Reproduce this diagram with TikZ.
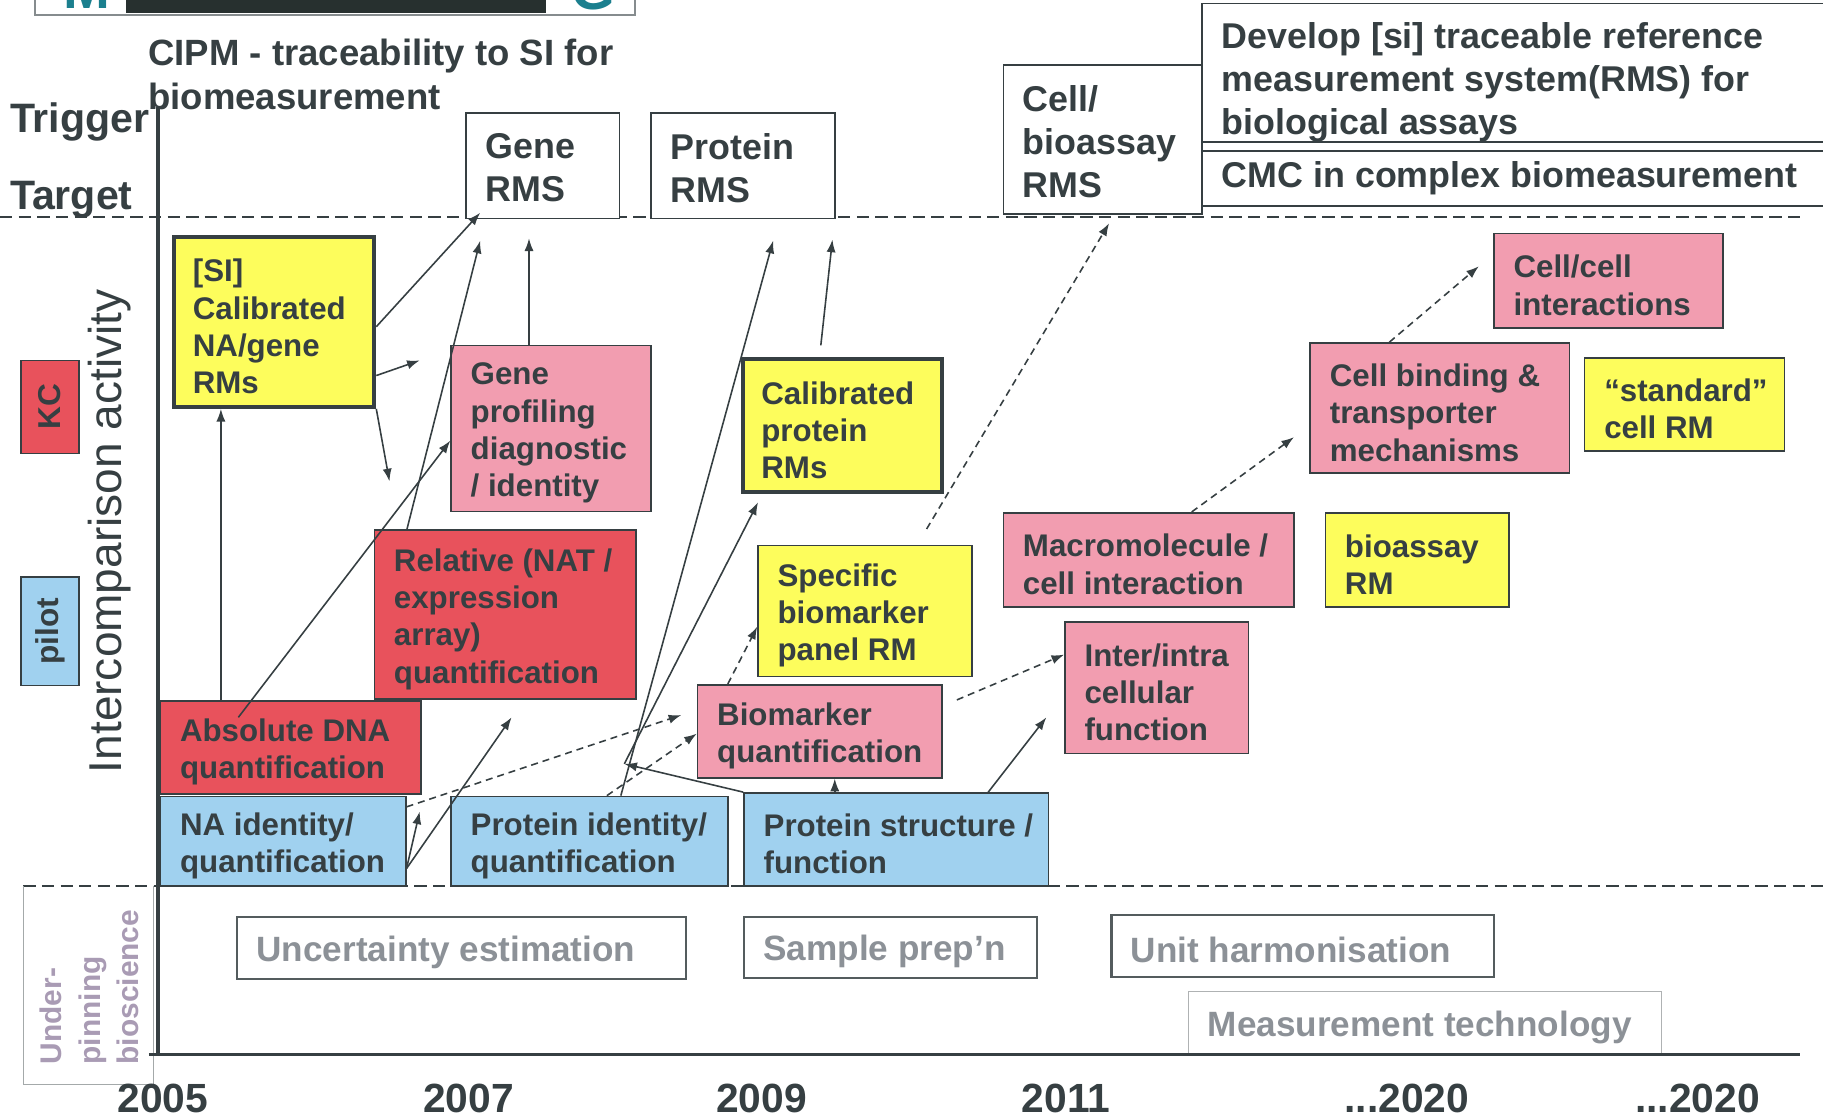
\documentclass[tikz,border=0pt]{standalone}
\usepackage{fontspec}
\setmainfont{Liberation Sans}
\usetikzlibrary{arrows.meta,fit}

\definecolor{ink}{HTML}{363F42}
\definecolor{rmyellow}{HTML}{FDFD5C}
\definecolor{rmpink}{HTML}{F29DB0}
\definecolor{rmred}{HTML}{E8525C}
\definecolor{rmblue}{HTML}{A0D1EF}
\definecolor{lilac}{HTML}{A99BB4}
\definecolor{greytext}{HTML}{8C9197}
\definecolor{logoteal}{HTML}{1B7F8E}
\definecolor{logodark}{HTML}{27302F}

\tikzset{
  rmbox/.style={draw=ink, line width=0.45pt, inner sep=0pt},
  yellowbox/.style={rmbox, fill=rmyellow},
  calbox/.style={yellowbox, line width=1.1pt},
  pinkbox/.style={rmbox, fill=rmpink},
  redbox/.style={rmbox, fill=rmred},
  bluebox/.style={rmbox, fill=rmblue},
  rmsbox/.style={rmbox, fill=white},
  basebox/.style={draw=ink!85, line width=0.6pt, inner sep=0pt},
  textbase/.style={right, inner sep=5.6pt, align=left, text=ink},
  boxtext/.style={textbase, yshift=-1.3pt, font=\bfseries\fontsize{8.9}{10.6}\selectfont},
  rmstext/.style={textbase, yshift=-0.6pt, font=\bfseries\fontsize{10.2}{12.2}\selectfont},
  basetext/.style={textbase, yshift=-1.2pt, text=greytext, font=\bfseries\fontsize{10}{12}\selectfont},
  link/.style={draw=ink, line width=0.45pt, -{Latex[length=3.6pt, width=2.6pt]}},
  dashlink/.style={link, dash pattern=on 2pt off 1.4pt},
  sepline/.style={draw=ink, line width=0.6pt, dash pattern=on 3.5pt off 1.8pt},
  year/.style={text=ink, font=\bfseries\fontsize{11.6}{12}\selectfont}
}

\begin{document}
\begin{tikzpicture}[x=0.011626cm, y=-0.011626cm]
    \useasboundingbox ( 0, 0 ) rectangle ( 1568, 962 );

    % logo strip
    \draw[ink!60, line width=0.5pt, fill=white] ( 30, -6 ) rectangle ( 546, 13 );
    \fill[logodark] ( 108, -6 ) rectangle ( 470, 11 );
    \node[anchor=base, text=logoteal, font=\bfseries\fontsize{16}{16}\selectfont] (logom) at ( 75, 7 ) {M};
    \node[anchor=base, text=logoteal, font=\bfseries\fontsize{16}{16}\selectfont] (logog) at ( 510, 8 ) {G};

    % title and rows
    \node[right, inner sep=0pt, align=left, text=ink, font=\bfseries\fontsize{10.4}{12.3}\selectfont] (title) at ( 127, 64 ) {CIPM - traceability to SI for\\biomeasurement};
    \node[right, inner sep=0pt, text=ink, font=\bfseries\fontsize{11.7}{13}\selectfont] (trigger) at ( 8, 105 ) {Trigger};
    \node[right, inner sep=0pt, text=ink, font=\bfseries\fontsize{11.7}{13}\selectfont] (target) at ( 8, 172 ) {Target};

    % separators
    \draw[sepline] ( 0, 187 ) -- ( 1550, 187 );
    \draw[sepline] ( 20, 762 ) -- ( 1568, 762 );

    % left labels
    \node[redbox, rotate=90, minimum width=26.5pt, minimum height=16.5pt, text=ink, font=\bfseries\fontsize{9}{10}\selectfont] (kc) at ( 43, 350 ) {KC};
    \node[bluebox, rotate=90, minimum width=30.8pt, minimum height=16.5pt, text=ink, font=\bfseries\fontsize{9}{10}\selectfont] (pilot) at ( 43, 543 ) {pilot};
    \node[rotate=90, text=ink, font=\fontsize{13.1}{14}\selectfont] (intercomp) at ( 94, 457 ) {Intercomparison activity};

    % underpinning
    \draw[ink!45, line width=0.4pt] ( 20, 762 ) -- ( 20, 933 ) -- ( 132, 933 ) -- ( 132, 762 );
    \node[rotate=90, anchor=north west, align=left, inner sep=0pt, text=lilac, font=\bfseries\fontsize{8.5}{10.9}\selectfont] (underpin) at ( 34, 916 ) {Under-\\pinning\\bioscience};

    % targets
    \node[rmsbox, fit={ ( 401, 97 ) ( 533, 188 ) }] (genrms) {};
    \node[rmstext] (genrms-t) at (genrms.west) {Gene\\RMS};
    \node[rmsbox, fit={ ( 560, 97 ) ( 718, 188 ) }] (protrms) {};
    \node[rmstext] (protrms-t) at (protrms.west) {Protein\\RMS};
    \node[rmsbox, fit={ ( 863, 56 ) ( 1034, 184 ) }] (cellrms) {};
    \node[rmstext] (cellrms-t) at (cellrms.west) {Cell/\\bioassay\\RMS};
    \node[rmsbox, fit={ ( 1034, 3 ) ( 1590, 122 ) }] (develop) {};
    \node[rmstext] (develop-t) at ([yshift=-2.1pt]develop.west) {Develop [si] traceable reference\\measurement system(RMS) for\\biological assays};
    \node[rmsbox, fit={ ( 1034, 130 ) ( 1590, 177 ) }] (cmc) {};
    \node[rmstext] (cmc-t) at ([yshift=0.6pt]cmc.west) {CMC in complex biomeasurement};

    % activities
    \node[calbox, fit={ ( 150, 204 ) ( 322, 350 ) }] (si) {};
    \node[boxtext] (si-t) at (si.west) {[SI]\\Calibrated\\NA/gene\\RMs};
    \node[pinkbox, fit={ ( 388, 297 ) ( 560, 440 ) }] (geneprof) {};
    \node[boxtext] (geneprof-t) at (geneprof.west) {Gene\\profiling\\diagnostic\\/ identity};
    \node[redbox, fit={ ( 322, 456 ) ( 547, 601 ) }] (relative) {};
    \node[boxtext] (relative-t) at (relative.west) {Relative (NAT /\\expression\\array)\\quantification};
    \node[redbox, fit={ ( 138, 603 ) ( 362, 683 ) }] (absdna) {};
    \node[boxtext] (absdna-t) at (absdna.west) {Absolute DNA\\quantification};
    \node[bluebox, fit={ ( 138, 685 ) ( 349, 762 ) }] (naid) {};
    \node[boxtext] (naid-t) at (naid.west) {NA identity/\\quantification};
    \node[bluebox, fit={ ( 388, 685 ) ( 626, 762 ) }] (protid) {};
    \node[boxtext] (protid-t) at (protid.west) {Protein identity/\\quantification};
    \node[bluebox, fit={ ( 640, 682 ) ( 902, 762 ) }] (protstruct) {};
    \node[boxtext] (protstruct-t) at (protstruct.west) {Protein structure /\\function};
    \node[pinkbox, fit={ ( 600, 589 ) ( 810, 669 ) }] (biomq) {};
    \node[boxtext] (biomq-t) at (biomq.west) {Biomarker\\quantification};
    \node[yellowbox, fit={ ( 652, 469 ) ( 836, 582 ) }] (specific) {};
    \node[boxtext] (specific-t) at (specific.west) {Specific\\biomarker\\panel RM};
    \node[calbox, fit={ ( 639, 309 ) ( 810, 423 ) }] (calprot) {};
    \node[boxtext] (calprot-t) at (calprot.west) {Calibrated\\protein\\RMs};
    \node[pinkbox, fit={ ( 863, 441 ) ( 1113, 522 ) }] (macrocell) {};
    \node[boxtext] (macrocell-t) at (macrocell.west) {Macromolecule /\\cell interaction};
    \node[pinkbox, fit={ ( 916, 535 ) ( 1074, 648 ) }] (interintra) {};
    \node[boxtext] (interintra-t) at (interintra.west) {Inter/intra\\cellular\\function};
    \node[yellowbox, fit={ ( 1140, 441 ) ( 1298, 522 ) }] (bioassay) {};
    \node[boxtext] (bioassay-t) at (bioassay.west) {bioassay\\RM};
    \node[pinkbox, fit={ ( 1127, 295 ) ( 1350, 407 ) }] (cellbind) {};
    \node[boxtext] (cellbind-t) at (cellbind.west) {Cell binding \&\\transporter\\mechanisms};
    \node[yellowbox, fit={ ( 1363, 308 ) ( 1535, 388 ) }] (standard) {};
    \node[boxtext] (standard-t) at (standard.west) {``standard''\\cell RM};
    \node[pinkbox, fit={ ( 1285, 201 ) ( 1482, 282 ) }] (cellcell) {};
    \node[boxtext] (cellcell-t) at (cellcell.west) {Cell/cell\\interactions};

    % underpinning topics
    \node[basebox, fit={ ( 204, 789 ) ( 590, 842 ) }] (uncert) {};
    \node[basetext] (uncert-t) at (uncert.west) {Uncertainty estimation};
    \node[basebox, fit={ ( 640, 789 ) ( 892, 841 ) }] (sample) {};
    \node[basetext] (sample-t) at (sample.west) {Sample prep'n};
    \node[basebox, fit={ ( 956, 787 ) ( 1285, 840 ) }] (unitharm) {};
    \node[basetext] (unitharm-t) at (unitharm.west) {Unit harmonisation};
    \node[basebox, draw=ink!40, line width=0.4pt, fit={ ( 1022, 853 ) ( 1429, 907 ) }] (meastech) {};
    \node[basetext] (meastech-t) at (meastech.west) {Measurement technology};

    % axes
    \draw[ink, line width=1pt] ( 136, 92 ) -- ( 136, 907 );
    \draw[ink, line width=1.1pt] ( 128, 907 ) -- ( 1548, 907 );

    % free ends
    \coordinate (c-genrms) at ( 413, 183 );
    \coordinate (c-sir) at ( 361, 310 );
    \coordinate (c-sid) at ( 335, 414 );
    \coordinate (c-dna) at ( 205, 617 );
    \coordinate (c-rel) at ( 413, 207 );
    \coordinate (c-gp) at ( 455, 205 );
    \coordinate (c-na1) at ( 440, 617 );
    \coordinate (c-na2) at ( 361, 698 );
    \coordinate (c-na3) at ( 586, 615 );
    \coordinate (hub) at ( 537, 657 );
    \coordinate (c-prms) at ( 665, 207 );
    \coordinate (c-cal) at ( 652, 432 );
    \coordinate (c-calfoot) at ( 706, 297 );
    \coordinate (c-prms2) at ( 716, 206 );
    \coordinate (c-specfoot) at ( 797, 455 );
    \coordinate (c-cell) at ( 954, 192 );
    \coordinate (c-ps) at ( 900, 617 );
    \coordinate (c-bmfoot) at ( 823, 602 );
    \coordinate (c-macro) at ( 1113, 376 );
    \coordinate (c-bind) at ( 1272, 229 );

    % links
    \draw[link] (si.east |- 0,281) -- (c-genrms);
    \draw[link] (si.east |- 0,323) -- (c-sir);
    \draw[link] (si.south east) -- (c-sid);
    \draw[link] (absdna.north -| 190,0) -- (si.south -| 190,0);
    \draw[link] (c-dna) -- (geneprof.west |- 0,379);
    \draw[link] (relative.north -| 350,0) -- (c-rel);
    \draw[link] (geneprof.north -| 455,0) -- (c-gp);
    \draw[link] (naid.east |- 0,747) -- (c-na1);
    \draw[link] (naid.east |- 0,747) -- (c-na2);
    \draw[dashlink] (naid.east |- 0,694) -- (c-na3);
    \draw[link] (protstruct.north west) -- (hub);
    \draw[link] (protid.north -| 534,0) -- (c-prms);
    \draw[link] (hub) -- (c-cal);
    \draw[dashlink] (protid.north -| 522,0) -- (biomq.west |- 0,631);
    \draw[dashlink] (biomq.north -| 626,0) -- (specific.west |- 0,539);
    \draw[dashlink] (c-specfoot) -- (c-cell);
    \draw[link] (c-calfoot) -- (c-prms2);
    \draw[link] (protstruct.north -| 718,0) -- (biomq.south -| 718,0);
    \draw[link] (protstruct.north -| 850,0) -- (c-ps);
    \draw[dashlink] (c-bmfoot) -- (interintra.west |- 0,563);
    \draw[dashlink] (macrocell.north -| 1025,0) -- (c-macro);
    \draw[dashlink] (cellbind.north -| 1195,0) -- (c-bind);

    % years
    \node[year] (y2005) at ( 140, 945 ) {2005};
    \node[year] (y2007) at ( 403, 945 ) {2007};
    \node[year] (y2009) at ( 655, 945 ) {2009};
    \node[year] (y2011) at ( 917, 945 ) {2011};
    \node[year] (y2020a) at ( 1210, 945 ) {...2020};
    \node[year] (y2020b) at ( 1460, 945 ) {...2020};
\end{tikzpicture}
\end{document}
